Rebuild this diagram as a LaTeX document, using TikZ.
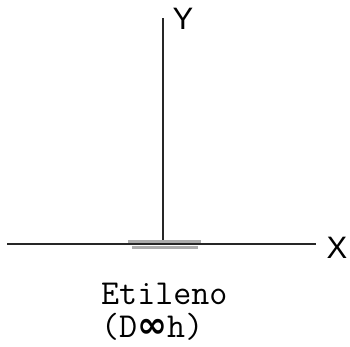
\documentclass[tikz,border=0pt]{standalone}
\usepackage{fontspec}
\newfontfamily\axisfont{Liberation Sans}
\newfontfamily\symfont{DejaVu Sans}
\begin{document}
\begin{tikzpicture}[x=1pt,y=-1pt,
  axis/.style={line width=1.3pt, black!85},
  bond/.style={line width=3pt, gray!65},
  axlabel/.style={font=\axisfont\fontsize{31}{31}\selectfont, inner sep=0pt},
  caption/.style={font=\ttfamily\fontsize{35}{38}\selectfont, inner sep=0pt, anchor=west}]
\useasboundingbox (0,0) rectangle (350,346);
\coordinate (xl) at (7,244);
\coordinate (xr) at (316,244);
\coordinate (yt) at (163,18);
\coordinate (o) at (163,244);
\draw[axis] (xl) -- (xr);
\draw[axis] (yt) -- (o);
\node[axlabel] (Y) at (183,19) {Y};
\node[axlabel] (X) at (337,248) {X};
\coordinate (b1l) at (128,241);
\coordinate (b1r) at (201,241);
\coordinate (b2l) at (132,247);
\coordinate (b2r) at (198,247);
\draw[bond] (b1l) -- (b1r);
\draw[bond] (b2l) -- (b2r);
\node[caption] (name) at (101,294) {Etileno};
\node[caption] (grp) at (101,327) {(D{\symfont\bfseries\fontsize{36}{36}\selectfont ∞}h)};
\end{tikzpicture}
\end{document}
